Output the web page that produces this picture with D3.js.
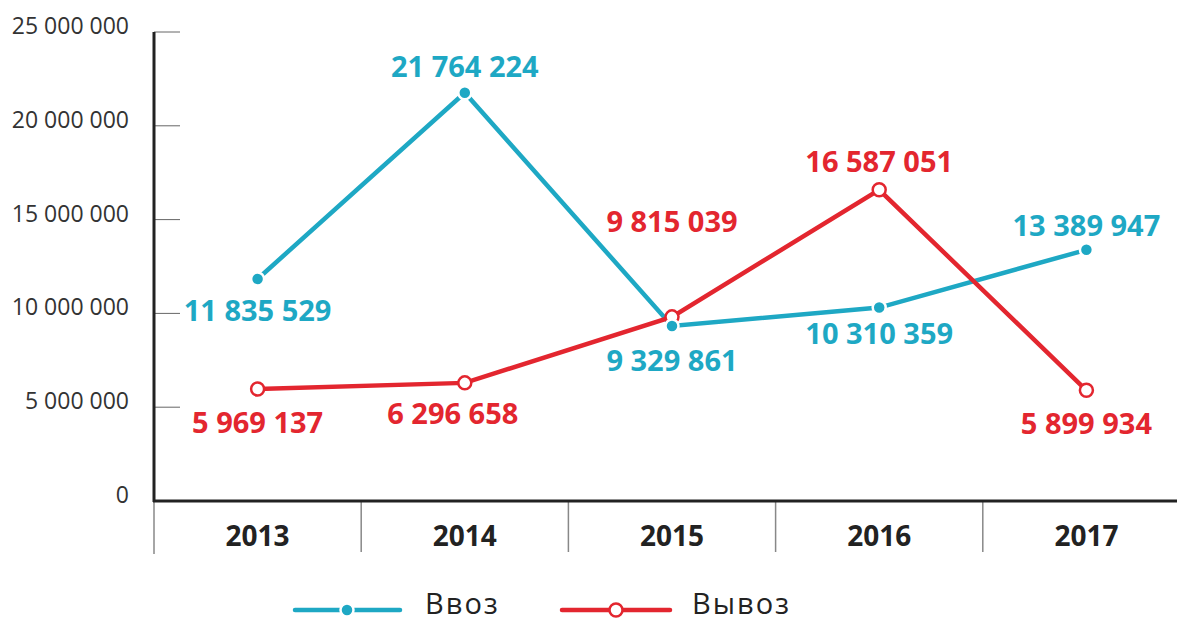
<!DOCTYPE html>
<meta charset="utf-8">
<style>
body { margin: 0; background: #fff; }
svg { font-family: 'Open Sans', sans-serif; }
.ytick text { font-size: 23px; fill: #333; }
.year { font-size: 28px; font-weight: bold; fill: #222; }
.val { font-size: 29px; font-weight: bold; }
.legend text { font-size: 29px; fill: #222; letter-spacing: 2px; }
</style>
<svg width="1177" height="621"></svg>
<script src="https://d3js.org/d3.v7.min.js"></script>
<script>

var years = ["2013", "2014", "2015", "2016", "2017"];
var importVals = [11835529, 21764224, 9329861, 10310359, 13389947];
var exportVals = [5969137, 6296658, 9815039, 16587051, 5899934];
var yTicks = [0, 5000000, 10000000, 15000000, 20000000, 25000000];

var blue = "#1ea8c4", red = "#e3262f";

// label placement: [dx, dy] relative to the point
var importLabelPos = [[0, 42], [0, -16], [0, 45], [0, 36], [0, -14]];
var exportLabelPos = [[0, 44], [-12, 41], [0, -85], [0, -18], [0, 44]];

var svg = d3.select("svg");

var x = d3.scaleBand().domain(years).range([154, 1190]);
var y = d3.scaleLinear().domain([0, 25000000]).range([501, 32]);

var fmt = function(v) { return d3.format(",")(v).replace(/,/g, " "); };

// y ticks
var yt = svg.append("g").attr("class", "ytick");
yt.selectAll("line").data(yTicks.slice(1)).enter().append("line")
    .attr("x1", 154).attr("x2", 180)
    .attr("y1", function(d) { return y(d); }).attr("y2", function(d) { return y(d); })
    .attr("stroke", "#666").attr("stroke-width", 1);
yt.selectAll("text").data(yTicks).enter().append("text")
    .attr("x", 129).attr("y", function(d) { return y(d) + 2; })
    .attr("text-anchor", "end")
    .text(function(d) { return fmt(d); });

// separators
svg.selectAll(".sep").data(years.slice(1)).enter().append("line")
    .attr("x1", function(d) { return x(d); }).attr("x2", function(d) { return x(d); })
    .attr("y1", 501).attr("y2", 552)
    .attr("stroke", "#888").attr("stroke-width", 1.5);

svg.append("line").attr("x1", 154).attr("x2", 154).attr("y1", 501).attr("y2", 554)
    .attr("stroke", "#888").attr("stroke-width", 1.5);

// axes
svg.append("line").attr("x1", 154).attr("x2", 154).attr("y1", 32).attr("y2", 502)
    .attr("stroke", "#222").attr("stroke-width", 3);
svg.append("line").attr("x1", 153).attr("x2", 1177).attr("y1", 501).attr("y2", 501)
    .attr("stroke", "#222").attr("stroke-width", 3);

svg.selectAll(".year").data(years).enter().append("text")
    .attr("class", "year")
    .attr("x", function(d) { return x(d) + x.bandwidth() / 2; })
    .attr("y", 546)
    .attr("text-anchor", "middle")
    .text(function(d) { return d; });

var cx = function(d, i) { return x(years[i]) + x.bandwidth() / 2; };
var line = d3.line().x(cx).y(function(d) { return y(d); });

svg.append("path").datum(importVals).attr("d", line)
    .attr("fill", "none").attr("stroke", blue).attr("stroke-width", 4.5);
svg.append("path").datum(exportVals).attr("d", line)
    .attr("fill", "none").attr("stroke", red).attr("stroke-width", 4.5);

svg.selectAll(".exp").data(exportVals).enter().append("circle")
    .attr("cx", cx).attr("cy", function(d) { return y(d); }).attr("r", 6.5)
    .attr("fill", "#fff").attr("stroke", red).attr("stroke-width", 2.5);

svg.selectAll(".imp").data(importVals).enter().append("circle")
    .attr("cx", cx).attr("cy", function(d) { return y(d); }).attr("r", 6.5)
    .attr("fill", blue).attr("stroke", "#fff").attr("stroke-width", 2.5);

svg.selectAll(".impl").data(importVals).enter().append("text")
    .attr("class", "val").attr("fill", blue).attr("text-anchor", "middle")
    .attr("x", function(d, i) { return cx(d, i) + importLabelPos[i][0]; })
    .attr("y", function(d, i) { return y(d) + importLabelPos[i][1]; })
    .text(fmt);

svg.selectAll(".expl").data(exportVals).enter().append("text")
    .attr("class", "val").attr("fill", red).attr("text-anchor", "middle")
    .attr("x", function(d, i) { return cx(d, i) + exportLabelPos[i][0]; })
    .attr("y", function(d, i) { return y(d) + exportLabelPos[i][1]; })
    .text(fmt);

// legend
var lg = svg.append("g").attr("class", "legend");
lg.append("line").attr("x1", 295).attr("x2", 400).attr("y1", 610).attr("y2", 610)
    .attr("stroke", blue).attr("stroke-width", 4.5).attr("stroke-linecap", "round");
lg.append("circle").attr("cx", 347).attr("cy", 610).attr("r", 6.5)
    .attr("fill", blue).attr("stroke", "#fff").attr("stroke-width", 2.5);
lg.append("text").attr("x", 425).attr("y", 614).text("Ввоз");
lg.append("line").attr("x1", 562).attr("x2", 670).attr("y1", 610).attr("y2", 610)
    .attr("stroke", red).attr("stroke-width", 4.5).attr("stroke-linecap", "round");
lg.append("circle").attr("cx", 616).attr("cy", 610).attr("r", 6.5)
    .attr("fill", "#fff").attr("stroke", red).attr("stroke-width", 2.5);
lg.append("text").attr("x", 692).attr("y", 614).text("Вывоз");

</script>
